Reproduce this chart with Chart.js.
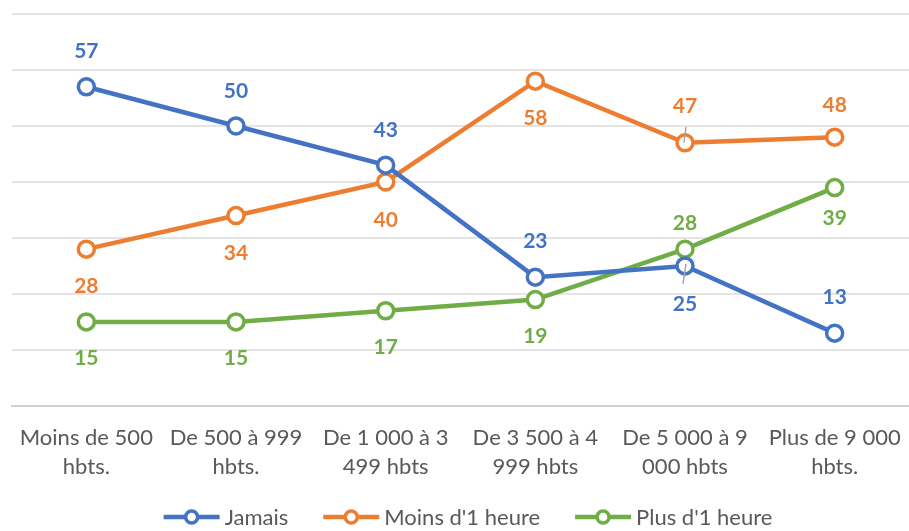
<!DOCTYPE html>
<html>
<head>
<meta charset="utf-8">
<script src="https://cdn.jsdelivr.net/npm/chart.js@4.4.1/dist/chart.umd.min.js"></script>
<style>
    html, body { margin: 0; padding: 0; background: #fff; overflow: hidden; }
    #wrap { width: 921px; height: 531px; }
</style>
</head>
<body>
<div id="wrap"><canvas id="lineChart"></canvas></div>
<script>
const categories = [
    ['Moins de 500', 'hbts.'],
    ['De 500 à 999', 'hbts.'],
    ['De 1 000 à 3', '499 hbts'],
    ['De 3 500 à 4', '999 hbts'],
    ['De 5 000 à 9', '000 hbts'],
    ['Plus de 9 000', 'hbts.'],
];
const seriesNames = ['Jamais', "Moins d'1 heure", "Plus d'1 heure"];
const jamais = [57, 50, 43, 23, 25, 13];
const moinsUneHeure = [28, 34, 40, 58, 47, 48];
const plusUneHeure = [15, 15, 17, 19, 28, 39];

const FONT = 'Lato';
const TEXT_GREY = '#595959';

// label placement per point: above or below the marker, plus small nudges (px)
const jamaisPos = ['up', 'up', 'up', 'up', 'down', 'up'];
const moinsPos = ['down', 'down', 'down', 'down', 'up', 'up'];
const plusPos = ['down', 'down', 'down', 'down', 'up', 'down'];
const jamaisNudge = [0, 1, 1, 0, 0, 0];
const moinsNudge = [-1, 0, 0, -1, -1, 4];
const plusNudge = [-2, -2, -2, -1, 10, -7];

function series(label, data, color, pos, nudge, leader) {
    return {
        label: label,
        data: data,
        borderColor: color,
        backgroundColor: color,
        borderWidth: 4.5,
        tension: 0,
        pointRadius: 8,
        pointHoverRadius: 8,
        pointBorderWidth: 3.5,
        pointBackgroundColor: '#fff',
        pointBorderColor: color,
        labelPos: pos,
        labelNudge: nudge,
        leader: leader,
    };
}

// value labels drawn next to each point
const valueLabels = {
    id: 'valueLabels',
    afterDatasetsDraw(chart) {
        const ctx = chart.ctx;
        ctx.save();
        ctx.font = 'bold 21px ' + FONT;
        ctx.textAlign = 'center';
        ctx.textBaseline = 'middle';
        chart.data.datasets.forEach((ds, di) => {
            const meta = chart.getDatasetMeta(di);
            meta.data.forEach((pt, i) => {
                const down = ds.labelPos[i] === 'down';
                const y = pt.y + (down ? 38 : -36) + ds.labelNudge[i];
                if (ds.leader === i) {
                    ctx.strokeStyle = '#a6a6a6';
                    ctx.lineWidth = 1.5;
                    ctx.beginPath();
                    if (down) {
                        ctx.moveTo(pt.x + 1, pt.y - 2);
                        ctx.lineTo(pt.x - 2, pt.y + 18);
                    } else {
                        ctx.moveTo(pt.x + 1, pt.y - 16);
                        ctx.lineTo(pt.x - 1, pt.y);
                    }
                    ctx.stroke();
                }
                ctx.fillStyle = ds.borderColor;
                ctx.fillText(ds.data[i], pt.x, y);
            });
        });
        ctx.restore();
    },
};

// legend with line + hollow circle markers
const lineLegend = {
    id: 'lineLegend',
    afterDraw(chart) {
        const ctx = chart.ctx;
        ctx.save();
        ctx.font = '22px ' + FONT;
        ctx.textBaseline = 'middle';
        const marker = 56, gap = 5, spacing = 35;
        const items = chart.data.datasets.map((ds) => ({
            label: ds.label,
            color: ds.borderColor,
            w: ctx.measureText(ds.label).width,
        }));
        let total = spacing * (items.length - 1);
        items.forEach((it) => { total += marker + gap + it.w; });
        let x = 468 - total / 2;
        const y = 517;
        items.forEach((it) => {
            ctx.strokeStyle = it.color;
            ctx.lineWidth = 4.5;
            ctx.beginPath();
            ctx.moveTo(x, y);
            ctx.lineTo(x + marker, y);
            ctx.stroke();
            ctx.beginPath();
            ctx.arc(x + marker / 2, y, 6, 0, Math.PI * 2);
            ctx.fillStyle = '#fff';
            ctx.fill();
            ctx.lineWidth = 3.5;
            ctx.stroke();
            ctx.fillStyle = TEXT_GREY;
            ctx.fillText(it.label, x + marker + gap, y + 1);
            x += marker + gap + it.w + spacing;
        });
        ctx.restore();
    },
};

new Chart(document.querySelector('#lineChart'), {
    type: 'line',
    data: {
        labels: categories,
        datasets: [
            series(seriesNames[0], jamais, '#4472C4', jamaisPos, jamaisNudge, 4),
            series(seriesNames[1], moinsUneHeure, '#ED7D31', moinsPos, moinsNudge, 4),
            series(seriesNames[2], plusUneHeure, '#70AD47', plusPos, plusNudge, -1),
        ],
    },
    options: {
        responsive: true,
        maintainAspectRatio: false,
        animation: false,
        layout: {
            padding: { left: 11, right: 0, top: 14, bottom: 33 },
        },
        plugins: {
            legend: { display: false },
            tooltip: { enabled: false },
        },
        scales: {
            x: {
                offset: true,
                grid: { display: false, drawTicks: false },
                border: { color: '#d0d0d0', width: 2 },
                ticks: {
                    color: TEXT_GREY,
                    font: { family: FONT, size: 22, lineHeight: 1.32 },
                    padding: 17,
                    maxRotation: 0,
                    autoSkip: false,
                },
            },
            y: {
                min: 0,
                max: 70,
                ticks: { display: false, stepSize: 10 },
                grid: { color: '#e4e4e4', lineWidth: 2, drawTicks: false },
                border: { display: false },
            },
        },
    },
    plugins: [valueLabels, lineLegend],
});
</script>
</body>
</html>
